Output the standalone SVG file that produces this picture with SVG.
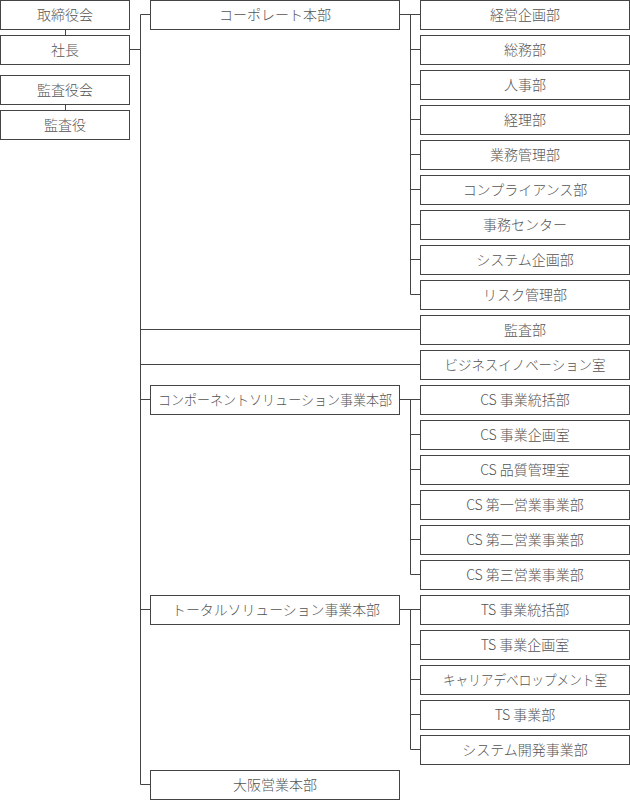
<svg xmlns="http://www.w3.org/2000/svg" width="630" height="800" viewBox="0 0 630 800">
<style>
rect.n{fill:#fff;stroke:#444;stroke-width:1}
text{font-family:"Noto Sans CJK JP","Noto Sans",sans-serif;font-size:14px;font-weight:300;fill:#555;text-anchor:middle}
#connectors path{fill:none;stroke:#444;stroke-width:1}
</style>
<rect width="630" height="800" fill="#fff"/>
<g id="connectors">
<path d="M65.5 29.5V35.5M65.5 104.5V110.5"/>
<path d="M129.5 49.5H140.5M140.5 14.5V784.5M140.5 14.5H150.5M140.5 329.5H420.5M140.5 364.5H420.5M140.5 399.5H150.5M140.5 609.5H150.5M140.5 784.5H150.5"/>
<path d="M399.5 14.5H420.5M410.5 14.5V294.5M410.5 49.5H420.5M410.5 84.5H420.5M410.5 119.5H420.5M410.5 154.5H420.5M410.5 189.5H420.5M410.5 224.5H420.5M410.5 259.5H420.5M410.5 294.5H420.5"/>
<path d="M399.5 399.5H420.5M410.5 399.5V574.5M410.5 434.5H420.5M410.5 469.5H420.5M410.5 504.5H420.5M410.5 539.5H420.5M410.5 574.5H420.5"/>
<path d="M399.5 609.5H420.5M410.5 609.5V749.5M410.5 644.5H420.5M410.5 679.5H420.5M410.5 714.5H420.5M410.5 749.5H420.5"/>
</g>
<g id="n-torishimariyakukai"><rect class="n" x="0.5" y="0.5" width="129" height="29"/><text x="65" y="20">取締役会</text></g>
<g id="n-shacho"><rect class="n" x="0.5" y="35.5" width="129" height="29"/><text x="65" y="55">社長</text></g>
<g id="n-kansayakukai"><rect class="n" x="0.5" y="75.5" width="129" height="29"/><text x="65" y="95">監査役会</text></g>
<g id="n-kansayaku"><rect class="n" x="0.5" y="110.5" width="129" height="29"/><text x="65" y="130">監査役</text></g>
<g id="n-corporate"><rect class="n" x="150.5" y="0.5" width="249" height="29"/><text x="275" y="20">コーポレート本部</text></g>
<g id="n-cs-hq"><rect class="n" x="150.5" y="385.5" width="249" height="29"/><text x="275" y="405" textLength="234" lengthAdjust="spacingAndGlyphs">コンポーネントソリューション事業本部</text></g>
<g id="n-ts-hq"><rect class="n" x="150.5" y="595.5" width="249" height="29"/><text x="276" y="615" textLength="208" lengthAdjust="spacingAndGlyphs">トータルソリューション事業本部</text></g>
<g id="n-osaka"><rect class="n" x="150.5" y="770.5" width="249" height="29"/><text x="275" y="790">大阪営業本部</text></g>
<g id="n-r0"><rect class="n" x="420.5" y="0.5" width="209" height="29"/><text x="525" y="20">経営企画部</text></g>
<g id="n-r1"><rect class="n" x="420.5" y="35.5" width="209" height="29"/><text x="525" y="55">総務部</text></g>
<g id="n-r2"><rect class="n" x="420.5" y="70.5" width="209" height="29"/><text x="525" y="90">人事部</text></g>
<g id="n-r3"><rect class="n" x="420.5" y="105.5" width="209" height="29"/><text x="525" y="125">経理部</text></g>
<g id="n-r4"><rect class="n" x="420.5" y="140.5" width="209" height="29"/><text x="525" y="160">業務管理部</text></g>
<g id="n-r5"><rect class="n" x="420.5" y="175.5" width="209" height="29"/><text x="525" y="195">コンプライアンス部</text></g>
<g id="n-r6"><rect class="n" x="420.5" y="210.5" width="209" height="29"/><text x="525" y="230">事務センター</text></g>
<g id="n-r7"><rect class="n" x="420.5" y="245.5" width="209" height="29"/><text x="525" y="265">システム企画部</text></g>
<g id="n-r8"><rect class="n" x="420.5" y="280.5" width="209" height="29"/><text x="525" y="300">リスク管理部</text></g>
<g id="n-r9"><rect class="n" x="420.5" y="315.5" width="209" height="29"/><text x="525" y="335">監査部</text></g>
<g id="n-r10"><rect class="n" x="420.5" y="350.5" width="209" height="29"/><text x="525" y="370" textLength="161" lengthAdjust="spacingAndGlyphs">ビジネスイノベーション室</text></g>
<g id="n-r11"><rect class="n" x="420.5" y="385.5" width="209" height="29"/><text x="525" y="405">CS 事業統括部</text></g>
<g id="n-r12"><rect class="n" x="420.5" y="420.5" width="209" height="29"/><text x="525" y="440">CS 事業企画室</text></g>
<g id="n-r13"><rect class="n" x="420.5" y="455.5" width="209" height="29"/><text x="525" y="475">CS 品質管理室</text></g>
<g id="n-r14"><rect class="n" x="420.5" y="490.5" width="209" height="29"/><text x="525" y="510">CS 第一営業事業部</text></g>
<g id="n-r15"><rect class="n" x="420.5" y="525.5" width="209" height="29"/><text x="525" y="545">CS 第二営業事業部</text></g>
<g id="n-r16"><rect class="n" x="420.5" y="560.5" width="209" height="29"/><text x="525" y="580">CS 第三営業事業部</text></g>
<g id="n-r17"><rect class="n" x="420.5" y="595.5" width="209" height="29"/><text x="525" y="615">TS 事業統括部</text></g>
<g id="n-r18"><rect class="n" x="420.5" y="630.5" width="209" height="29"/><text x="525" y="650">TS 事業企画室</text></g>
<g id="n-r19"><rect class="n" x="420.5" y="665.5" width="209" height="29"/><text x="525" y="685" textLength="164" lengthAdjust="spacingAndGlyphs">キャリアデベロップメント室</text></g>
<g id="n-r20"><rect class="n" x="420.5" y="700.5" width="209" height="29"/><text x="525" y="720">TS 事業部</text></g>
<g id="n-r21"><rect class="n" x="420.5" y="735.5" width="209" height="29"/><text x="525" y="755">システム開発事業部</text></g>
</svg>
